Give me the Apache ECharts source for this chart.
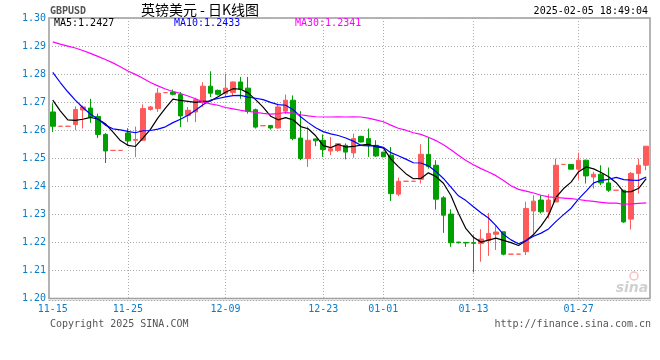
<!DOCTYPE html>
<html><head><meta charset="utf-8">
<script src="https://cdn.jsdelivr.net/npm/echarts@6/dist/echarts.min.js"></script>
<style>html,body{margin:0;padding:0;background:#fff}#c{width:660px;height:360px}</style>
</head><body><div id="c"></div>
<script>
const dates = [
'2024-11-15','2024-11-16','2024-11-17','2024-11-18','2024-11-19','2024-11-20','2024-11-21','2024-11-22','2024-11-23','2024-11-24',
'2024-11-25','2024-11-26','2024-11-27','2024-11-28','2024-11-29','2024-11-30','2024-12-02','2024-12-03','2024-12-04','2024-12-05',
'2024-12-06','2024-12-07','2024-12-08','2024-12-09','2024-12-10','2024-12-11','2024-12-12','2024-12-13','2024-12-14','2024-12-16',
'2024-12-17','2024-12-18','2024-12-19','2024-12-20','2024-12-21','2024-12-22','2024-12-23','2024-12-24','2024-12-26','2024-12-27',
'2024-12-28','2024-12-29','2024-12-30','2024-12-31','2025-01-01','2025-01-02','2025-01-03','2025-01-04','2025-01-05','2025-01-06',
'2025-01-07','2025-01-08','2025-01-09','2025-01-10','2025-01-11','2025-01-12','2025-01-13','2025-01-14','2025-01-15','2025-01-16',
'2025-01-17','2025-01-18','2025-01-19','2025-01-20','2025-01-21','2025-01-22','2025-01-23','2025-01-24','2025-01-25','2025-01-26',
'2025-01-27','2025-01-28','2025-01-29','2025-01-30','2025-01-31','2025-02-01','2025-02-02','2025-02-03','2025-02-04','2025-02-05'];
const tickDates = ['2024-11-15','2024-11-25','2024-12-09','2024-12-23','2025-01-01','2025-01-13','2025-01-27'];

const opens = [
1.2665,1.2614,1.2614,1.2620,1.2672,1.2679,1.2649,1.2585,1.2528,1.2528,
1.2590,1.2564,1.2564,1.2674,1.2677,1.2734,1.2736,1.2727,1.2653,1.2665,
1.2698,1.2757,1.2742,1.2730,1.2734,1.2772,1.2750,1.2673,1.2616,1.2617,
1.2608,1.2668,1.2707,1.2572,1.2499,1.2569,1.2564,1.2526,1.2528,1.2546,
1.2519,1.2578,1.2570,1.2546,1.2522,1.2511,1.2372,1.2418,1.2418,1.2425,
1.2514,1.2475,1.2359,1.2301,1.2201,1.2200,1.2199,1.2196,1.2206,1.2229,
1.2238,1.2158,1.2158,1.2167,1.2312,1.2351,1.2309,1.2344,1.2478,1.2478,
1.2461,1.2493,1.2433,1.2443,1.2412,1.2386,1.2386,1.2283,1.2446,1.2475];
const closes = [
1.2614,1.2614,1.2614,1.2674,1.2683,1.2647,1.2585,1.2526,1.2528,1.2528,
1.2562,1.2567,1.2677,1.2683,1.2732,1.2734,1.2728,1.2651,1.2671,1.2709,
1.2757,1.2732,1.2728,1.2750,1.2772,1.2746,1.2667,1.2611,1.2616,1.2608,
1.2683,1.2707,1.2570,1.2499,1.2564,1.2562,1.2531,1.2534,1.2552,1.2522,
1.2570,1.2558,1.2546,1.2508,1.2505,1.2374,1.2418,1.2418,1.2418,1.2514,
1.2471,1.2354,1.2297,1.2199,1.2199,1.2198,1.2197,1.2212,1.2232,1.2237,
1.2158,1.2158,1.2158,1.2321,1.2347,1.2309,1.2351,1.2475,1.2478,1.2461,
1.2493,1.2437,1.2443,1.2412,1.2386,1.2386,1.2273,1.2446,1.2475,1.2543];
const lows = [
1.2594,1.2614,1.2614,1.2600,1.2606,1.2626,1.2572,1.2483,1.2528,1.2528,
1.2545,1.2504,1.2564,1.2670,1.2665,1.2734,1.2724,1.2611,1.2629,1.2629,
1.2683,1.2718,1.2724,1.2718,1.2724,1.2712,1.2659,1.2606,1.2616,1.2602,
1.2605,1.2658,1.2564,1.2493,1.2469,1.2543,1.2505,1.2511,1.2522,1.2496,
1.2502,1.2556,1.2505,1.2505,1.2505,1.2348,1.2365,1.2418,1.2418,1.2410,
1.2463,1.2317,1.2234,1.2184,1.2196,1.2184,1.2093,1.2131,1.2152,1.2173,
1.2154,1.2158,1.2158,1.2155,1.2222,1.2303,1.2285,1.2344,1.2478,1.2461,
1.2424,1.2410,1.2392,1.2404,1.2380,1.2386,1.2270,1.2246,1.2374,1.2457];
const highs = [
1.2696,1.2614,1.2614,1.2685,1.2688,1.2712,1.2659,1.2590,1.2528,1.2528,
1.2607,1.2613,1.2692,1.2686,1.2750,1.2734,1.2745,1.2736,1.2683,1.2716,
1.2771,1.2810,1.2745,1.2801,1.2774,1.2790,1.2790,1.2677,1.2616,1.2618,
1.2690,1.2727,1.2724,1.2668,1.2613,1.2570,1.2585,1.2576,1.2553,1.2553,
1.2588,1.2580,1.2606,1.2564,1.2522,1.2540,1.2431,1.2418,1.2418,1.2550,
1.2573,1.2493,1.2365,1.2318,1.2202,1.2200,1.2225,1.2247,1.2305,1.2258,
1.2238,1.2158,1.2158,1.2345,1.2368,1.2368,1.2372,1.2499,1.2478,1.2478,
1.2520,1.2495,1.2452,1.2475,1.2467,1.2386,1.2386,1.2451,1.2499,1.2543];

const ma5 = [
1.2707,1.2669,1.2637,1.2635,1.2639,1.2646,1.2640,1.2623,1.2594,1.2563,
1.2546,1.2542,1.2572,1.2603,1.2644,1.2679,1.2711,1.2706,1.2703,1.2699,
1.2703,1.2704,1.2719,1.2735,1.2748,1.2746,1.2733,1.2709,1.2682,1.2650,
1.2637,1.2645,1.2637,1.2613,1.2605,1.2580,1.2545,1.2538,1.2549,1.2540,
1.2542,1.2547,1.2550,1.2541,1.2537,1.2498,1.2470,1.2445,1.2427,1.2428,
1.2448,1.2435,1.2411,1.2367,1.2304,1.2249,1.2218,1.2201,1.2208,1.2215,
1.2207,1.2199,1.2189,1.2206,1.2228,1.2259,1.2297,1.2361,1.2392,1.2415,
1.2452,1.2469,1.2462,1.2449,1.2434,1.2413,1.2380,1.2381,1.2393,1.2427];
const ma10 = [
1.2806,1.2770,1.2737,1.2707,1.2681,1.2658,1.2640,1.2618,1.2605,1.2601,
1.2596,1.2591,1.2598,1.2599,1.2604,1.2612,1.2627,1.2639,1.2653,1.2671,
1.2691,1.2707,1.2713,1.2719,1.2723,1.2724,1.2718,1.2714,1.2709,1.2699,
1.2691,1.2689,1.2673,1.2648,1.2627,1.2609,1.2595,1.2587,1.2581,1.2572,
1.2561,1.2546,1.2544,1.2545,1.2539,1.2520,1.2509,1.2497,1.2484,1.2483,
1.2473,1.2453,1.2428,1.2397,1.2366,1.2349,1.2327,1.2306,1.2287,1.2260,
1.2228,1.2209,1.2195,1.2207,1.2222,1.2233,1.2248,1.2275,1.2299,1.2322,
1.2355,1.2383,1.2412,1.2421,1.2425,1.2432,1.2424,1.2422,1.2421,1.2433];
const ma30 = [
1.2915,1.2907,1.2900,1.2893,1.2884,1.2874,1.2863,1.2852,1.2840,1.2826,
1.2811,1.2799,1.2785,1.2770,1.2758,1.2747,1.2738,1.2731,1.2722,1.2712,
1.2701,1.2694,1.2689,1.2681,1.2676,1.2671,1.2667,1.2664,1.2660,1.2657,
1.2659,1.2663,1.2661,1.2655,1.2651,1.2648,1.2647,1.2647,1.2648,1.2647,
1.2648,1.2647,1.2643,1.2637,1.2630,1.2618,1.2607,1.2600,1.2591,1.2585,
1.2575,1.2563,1.2548,1.2530,1.2511,1.2492,1.2477,1.2463,1.2451,1.2438,
1.2421,1.2402,1.2389,1.2383,1.2376,1.2368,1.2362,1.2360,1.2358,1.2356,
1.2353,1.2349,1.2346,1.2343,1.2340,1.2340,1.2336,1.2337,1.2339,1.2341];

const yMin = 1.20, yMax = 1.30, yStep = 0.01;

const BLUE = '#0a7cc8';
const UP = '#ff5a5a', DOWN = '#00a000';
const mono = '"DejaVu Sans Mono", "Liberation Mono", monospace';
const dotted = {color:'#aaaaaa', width:1, type:[1,2]};

const chart = echarts.init(document.getElementById('c'), null, {renderer:'canvas'});
const last = a => a[a.length-1].toFixed(4);

chart.setOption({
  animation:false,
  backgroundColor:'#ffffff',
  grid:{left:49, right:10, top:18, bottom:61.5, show:true, borderColor:'#9c9c9c', borderWidth:1.5, backgroundColor:'transparent'},
  xAxis:{
    type:'category', data:dates, boundaryGap:true, offset:2,
    axisLine:{show:true, lineStyle:dotted},
    axisTick:{show:false},
    axisLabel:{
      interval:(i,v)=>tickDates.indexOf(v)>=0,
      formatter:v=>v.slice(5), color:BLUE, fontFamily:mono, fontSize:10, margin:4
    },
    splitLine:{show:true, alignWithLabel:true, interval:(i,v)=>i>0 && tickDates.indexOf(v)>=0, lineStyle:dotted}
  },
  yAxis:{
    type:'value', min:yMin, max:yMax, interval:yStep, scale:true,
    axisLine:{show:false}, axisTick:{show:false},
    axisLabel:{formatter:v=>v.toFixed(2), color:BLUE, fontFamily:mono, fontSize:10, margin:3, padding:[0,0,4,0]},
    splitLine:{show:true, lineStyle:dotted}
  },
  series:[
    {type:'candlestick', name:'K', barWidth:5,
     data:dates.map((d,i)=>[opens[i],closes[i],lows[i],highs[i]]),
     itemStyle:{color:UP, color0:DOWN, borderColor:UP, borderColor0:DOWN, borderWidth:1},
     emphasis:{disabled:true}, silent:true},
    {type:'line', name:'MA5', data:ma5, showSymbol:false, symbol:'none', lineStyle:{color:'#000000', width:1.2}, silent:true, z:3},
    {type:'line', name:'MA10', data:ma10, showSymbol:false, symbol:'none', lineStyle:{color:'#0000ff', width:1.2}, silent:true, z:3},
    {type:'line', name:'MA30', data:ma30, showSymbol:false, symbol:'none', lineStyle:{color:'#ff00ff', width:1.2}, silent:true, z:3}
  ],
  graphic:[
    {type:'text', x:50, y:11, style:{text:'GBPUSD', fill:'#555555', font:'bold 10px '+mono, align:'left', verticalAlign:'middle'}},
    {type:'text', x:200, y:9.5, style:{text:'英镑美元 - 日K线图', fill:'#000000', font:'14px "Noto Sans CJK SC", sans-serif', align:'center', verticalAlign:'middle'}},
    {type:'text', x:648, y:11.5, style:{text:'2025-02-05 18:49:04', fill:'#000000', font:'10px '+mono, align:'right', verticalAlign:'middle'}},
    {type:'text', x:54, y:23.5, z:10, style:{text:'MA5:'+last(ma5), fill:'#000000', font:'10px '+mono, align:'left', verticalAlign:'middle'}},
    {type:'text', x:174, y:23.5, z:10, style:{text:'MA10:'+last(ma10), fill:'#0000ff', font:'10px '+mono, align:'left', verticalAlign:'middle'}},
    {type:'text', x:295, y:23.5, z:10, style:{text:'MA30:'+last(ma30), fill:'#ff00ff', font:'10px '+mono, align:'left', verticalAlign:'middle'}},
    {type:'text', x:50, y:324, style:{text:'Copyright 2025 SINA.COM', fill:'#555555', font:'10px '+mono, align:'left', verticalAlign:'middle'}},
    {type:'text', x:651, y:324, style:{text:'http://finance.sina.com.cn', fill:'#555555', font:'10px '+mono, align:'right', verticalAlign:'middle'}},
    {type:'circle', shape:{cx:634, cy:276, r:4}, style:{fill:'none', stroke:'rgba(230,120,120,0.45)', lineWidth:1.5}, z:0},
    {type:'text', x:632, y:288, style:{text:'sina', fill:'rgba(150,150,150,0.45)', font:'italic bold 14px "DejaVu Sans", sans-serif', align:'center', verticalAlign:'middle'}, z:0}
  ]
});
</script></body></html>
